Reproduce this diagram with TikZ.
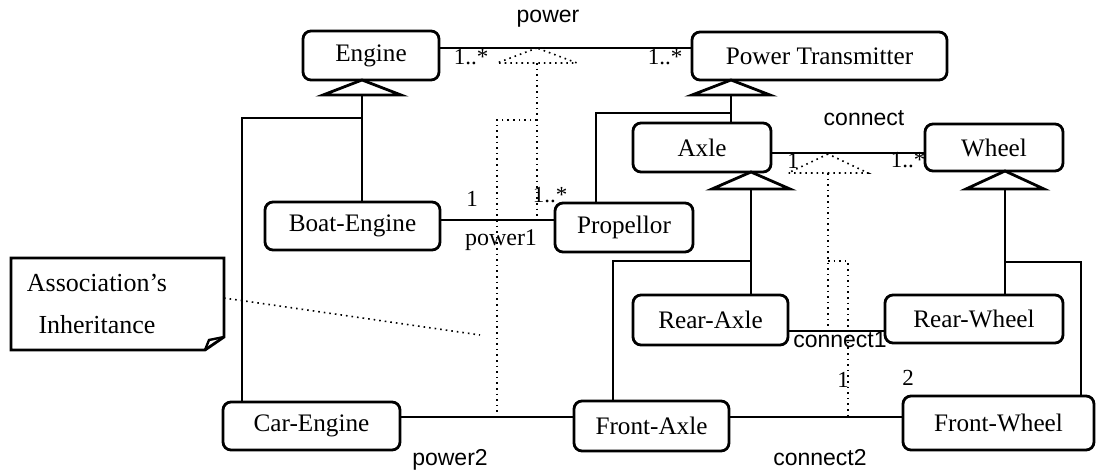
\documentclass[tikz,border=0pt]{standalone}
\usepackage{fontspec}
\setmainfont{Liberation Serif}
\newfontfamily\lsans{Liberation Sans}
\begin{document}
\begin{tikzpicture}[x=0.5pt,y=-0.5pt,
  cls/.style={draw, rounded corners=4pt, line width=1.4pt, inner sep=0pt, outer sep=0pt, font=\fontsize{12.6}{15}\selectfont},
  conn/.style={line width=1.2pt},
  inh/.style={draw, fill=white, line width=1.4pt, line join=miter},
  dots/.style={dotted, line width=0.8pt},
  mult/.style={inner sep=0pt, font=\fontsize{11.5}{13}\selectfont},
  aname/.style={inner sep=0pt, font=\lsans\fontsize{11.5}{13}\selectfont},
]
\useasboundingbox (0,0) rectangle (1097,471);

% classes
\node[cls, minimum width=68pt, minimum height=24.5pt] (engine) at (371,55.5) {Engine};
\node[cls, minimum width=127.5pt, minimum height=24pt] (pt) at (819.5,56) {Power Transmitter};
\node[cls, minimum width=69pt, minimum height=24.5pt] (axle) at (702,147.5) {Axle};
\node[cls, minimum width=69pt, minimum height=23.5pt] (wheel) at (994,147.5) {Wheel};
\node[cls, minimum width=87.5pt, minimum height=24pt] (boat) at (352.5,226) {Boat-Engine};
\node[cls, minimum width=69pt, minimum height=24.5pt] (prop) at (624,227.5) {Propellor};
\node[cls, minimum width=77.5pt, minimum height=25pt] (rearaxle) at (710.5,320) {Rear-Axle};
\node[cls, minimum width=89pt, minimum height=24pt] (rearwheel) at (974,319) {Rear-Wheel};
\node[cls, minimum width=88.5pt, minimum height=24pt] (carengine) at (311.5,426) {Car-Engine};
\node[cls, minimum width=77.5pt, minimum height=25pt] (frontaxle) at (651.5,426) {Front-Axle};
\node[cls, minimum width=95.5pt, minimum height=27pt] (frontwheel) at (998.5,423) {Front-Wheel};

% note
\node[inner sep=0pt, outer sep=0pt, minimum width=106.5pt, minimum height=46pt] (note) at (117.5,304) {};
\draw[line width=1.4pt, line join=miter] (note.north west) -- (note.north east) -- ([yshift=6.5pt]note.south east) -- ([xshift=-9.5pt]note.south east) -- (note.south west) -- cycle;
\draw[line width=1.2pt] ([yshift=6.5pt]note.south east) -- ([xshift=-7.5pt,yshift=5pt]note.south east) -- ([xshift=-9.5pt]note.south east);
\node[align=center, inner sep=0pt, font=\fontsize{13}{21}\selectfont] (notetext) at (97,304) {Association’s\\Inheritance};
\coordinate (nend) at (480,335);
\draw[dots] (note.east |- 0,298) -- (nend);

% power association
\draw[conn] (engine.east |- 0,48) -- (pt.west |- 0,48);
\node[aname] (lpower) at (548,19) {power};
\node[mult] (m1) at (471,57) {1..*};
\node[mult] (m2) at (665,57) {1..*};

% connect association
\draw[conn] (axle.east |- 0,153) -- (wheel.west |- 0,153);
\node[aname] (lconn) at (864,118) {connect};
\node[mult] (m5) at (793,161) {1};
\node[mult] (m6) at (908,160) {1..*};

% power1
\draw[conn] (boat.east |- 0,220) -- (prop.west |- 0,220);
\node[mult] (m3) at (472,199) {1};
\node[mult] (m4) at (550,195) {1..*};
\node[inner sep=0pt, font=\fontsize{12}{14}\selectfont] (lp1) at (501,240) {power1};

% connect1
\draw[conn] (rearaxle.east |- 0,331) -- (rearwheel.west |- 0,331);
\node[aname] (lc1) at (840,340) {connect1};

% power2
\draw[conn] (carengine.east |- 0,417) -- (frontaxle.west |- 0,417);
\node[aname] (lp2) at (450,460) {power2};

% connect2
\draw[conn] (frontaxle.east |- 0,417) -- (frontwheel.west |- 0,417);
\node[aname] (lc2) at (820,458) {connect2};
\node[mult] (m7) at (843,380) {1};
\node[mult] (m8) at (908,378) {2};

% inheritance: Engine
\draw[conn] (362,95) -- (362,0 |- boat.north);
\draw[conn] (362,118) -- (242,118) -- (242,0 |- carengine.north);
\draw[inh] (362,0 |- engine.south) -- ++(-39,15) -- ++(78,0) -- cycle;

% inheritance: Power Transmitter
\draw[conn] (731,95) -- (731,0 |- axle.north);
\draw[conn] (731,113) -- (596,113) -- (596,0 |- prop.north);
\draw[inh] (731,0 |- pt.south) -- ++(-39,15) -- ++(78,0) -- cycle;

% inheritance: Axle
\draw[conn] (751,189) -- (751,0 |- rearaxle.north);
\draw[conn] (751,261) -- (613,261) -- (613,0 |- frontaxle.north);
\draw[inh] (751,0 |- axle.south) -- ++(-39,17) -- ++(78,0) -- cycle;

% inheritance: Wheel
\draw[conn] (1005,189) -- (1005,0 |- rearwheel.north);
\draw[conn] (1005,262) -- (1081,262) -- (1081,0 |- frontwheel.north);
\draw[inh] (1005,0 |- wheel.south) -- ++(-39,18) -- ++(78,0) -- cycle;

% association inheritance (power)
\coordinate (pw) at (537,48);
\draw[dots] (pw) -- (497,63) -- (577,63) -- cycle;
\draw[dots] (537,63) -- (537,220);
\draw[dots] (537,120) -- (497,120) -- (497,417);

% association inheritance (connect)
\coordinate (cn) at (828,154);
\draw[dots] (cn) -- (788,173) -- (868,173) -- cycle;
\draw[dots] (828,173) -- (828,331);
\draw[dots] (828,261) -- (848,261) -- (848,417);
\end{tikzpicture}
\end{document}
